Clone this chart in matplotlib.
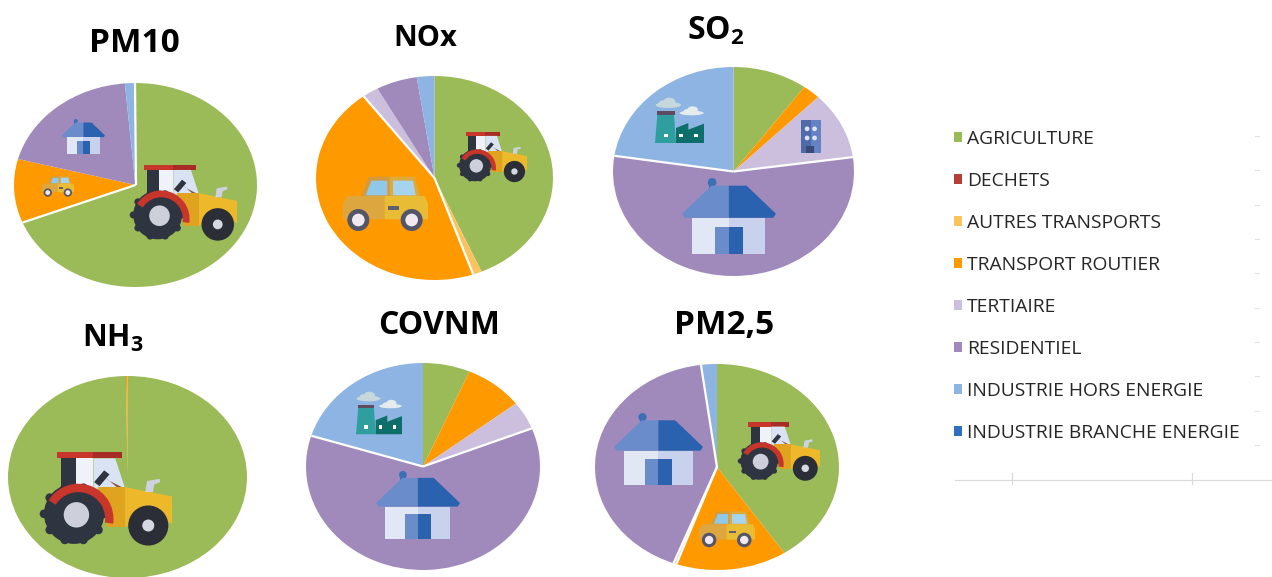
import numpy as np
import matplotlib
matplotlib.use("Agg")
import matplotlib.pyplot as plt
from matplotlib.patches import Patch, Polygon, Circle, Ellipse, Wedge

plt.rcParams['font.family'] = ['Open Sans', 'DejaVu Sans']
plt.rcParams['mathtext.fontset'] = 'custom'
plt.rcParams['mathtext.bf'] = 'Open Sans:bold'
plt.rcParams['mathtext.rm'] = 'Open Sans'

W, H = 1272, 577

# legend order, same order in every pollutant array
categories = ['AGRICULTURE', 'DECHETS', 'AUTRES TRANSPORTS', 'TRANSPORT ROUTIER', 'TERTIAIRE',
              'RESIDENTIEL', 'INDUSTRIE HORS ENERGIE', 'INDUSTRIE BRANCHE ENERGIE']
colors = ['#9BBB59', '#B5403A', '#FAC35E', '#FF9900', '#CBBFDD', '#A08ABC', '#8DB4E2', '#2F6FBE']

pm10 = [69.0, 0, 0, 10.1, 0, 19.5, 1.4, 0]
nox = [43.5, 0, 1.2, 45.1, 2.2, 5.6, 2.4, 0]
so2 = [10.0, 0, 0, 2.4, 10.4, 54.6, 22.6, 0]
nh3 = [99.8, 0, 0, 0.2, 0, 0, 0, 0]
covnm = [6.5, 0, 0, 8.1, 4.4, 60.8, 20.2, 0]
pm25 = [40.7, 0, 0, 14.7, 0.4, 42.1, 2.1, 0]

# (values, title, ellipse box in pixels x0,x1,y0,y1, title centre, title size, slices followed by a white gap)
pies = [
    (pm10, 'PM10', (14, 257, 83, 287), (134, 43), 24, [0, 6]),
    (nox, 'NOx', (316, 553, 76, 280), (425, 38), 21, [2, 3]),
    (so2, r'$\mathbf{SO_2}$', (613, 854, 67, 276), (716, 31), 23, [4, 5]),
    (nh3, r'$\mathbf{NH_3}$', (8, 247, 376, 578), (113, 338), 22, []),
    (covnm, 'COVNM', (306, 540, 363, 570), (439, 325), 23, [4, 5]),
    (pm25, 'PM2,5', (595, 839, 364, 570), (724, 325), 24, [3, 4, 5]),
]

fig = plt.figure(figsize=(W / 100, H / 100), dpi=100)


def draw_pie(values, box):
    x0, x1, y0, y1 = box
    ax = fig.add_axes([x0 / W, 1 - y1 / H, (x1 - x0) / W, (y1 - y0) / H])
    ax.pie(values, colors=colors, startangle=90, counterclock=False, radius=1,
           wedgeprops=dict(linewidth=0))
    ax.set_aspect('auto')
    ax.set_xlim(-1, 1)
    ax.set_ylim(-1, 1)
    return ax


for values, title, box, tpos, tsize, gaps in pies:
    ax = draw_pie(values, box)
    cum = np.cumsum(values) / np.sum(values)
    for g in gaps:
        a = 2 * np.pi * cum[g]
        ax.plot([0, np.sin(a)], [0, np.cos(a)], color='white', lw=1.6, solid_capstyle='butt')

# overlay in pixel coordinates for titles and pictograms
ov = fig.add_axes([0, 0, 1, 1], facecolor='none')
ov.set_xlim(0, W)
ov.set_ylim(H, 0)
ov.axis('off')

for values, title, box, tpos, tsize, gaps in pies:
    ov.text(tpos[0], tpos[1], title, ha='center', va='center', fontsize=tsize, fontweight='bold', color='black')


def mapper(x0, y0, w, ox, oy, ow):
    k = w / ow
    return lambda pts: [(x0 + (u - ox) * k, y0 + (v - oy) * k) for u, v in pts], k


def poly(f, pts, c, z=3):
    ov.add_patch(Polygon(f(pts), closed=True, fc=c, ec='none', zorder=z))


def disc(f, k, cx, cy, r, c, z=3):
    p = f([(cx, cy)])[0]
    ov.add_patch(Circle(p, r * k, fc=c, ec='none', zorder=z))


def tractor(x0, y0, w):
    f, k = mapper(x0, y0, w, 120, 422, 395)
    poly(f, [(170, 424), (280, 424), (280, 444), (170, 444)], '#C8352B')
    poly(f, [(280, 424), (365, 424), (365, 444), (280, 444)], '#A82C26')
    poly(f, [(183, 444), (228, 444), (228, 535), (183, 535)], '#2F3540')
    poly(f, [(228, 444), (280, 444), (280, 535), (228, 535)], '#F0F2FA')
    poly(f, [(280, 444), (345, 444), (375, 535), (280, 535)], '#D9E3F3')
    poly(f, [(315, 500), (325, 510), (375, 535), (355, 535)], '#8A5A3C')
    poly(f, [(282, 515), (312, 480), (328, 492), (298, 527)], '#2F3540')
    poly(f, [(295, 530), (375, 530), (375, 650), (320, 650)], '#E0A31F')
    poly(f, [(375, 530), (515, 558), (515, 640), (490, 625), (420, 625), (375, 650)], '#EDB92B')
    poly(f, [(435, 545), (440, 512), (478, 505), (480, 515), (462, 522), (458, 545)], '#CDD2DE')
    for a in np.arange(0, 360, 36):
        disc(f, k, 222 + 90 * np.cos(np.radians(a)), 610 + 82 * np.sin(np.radians(a)), 13, '#2F3540', 4)
    disc(f, k, 222, 610, 90, '#2F3540', 4)
    c = f([(235, 625)])[0]
    ov.add_patch(Wedge(c, 105 * k, 212, 368, width=25 * k, fc='#C8352B', ec='none', zorder=4.5))
    disc(f, k, 229, 613, 38, '#CDD0DA', 5)
    disc(f, k, 444, 645, 60, '#2B2E36', 4)
    disc(f, k, 444, 645, 18, '#D5D8E2', 5)


def car(x0, y0, w):
    f, k = mapper(x0, y0, w, 130, 498, 255)
    poly(f, [(183, 560), (208, 500), (270, 500), (270, 560)], '#D59A3C')
    poly(f, [(270, 500), (345, 500), (362, 560), (270, 560)], '#DDAA3C')
    poly(f, [(198, 556), (215, 512), (263, 512), (263, 556)], '#8FC8E8')
    poly(f, [(280, 512), (340, 512), (348, 556), (280, 556)], '#A6D4EE')
    poly(f, [(130, 580), (145, 558), (255, 558), (255, 628), (130, 628)], '#DDA63F')
    poly(f, [(255, 558), (375, 558), (385, 580), (385, 628), (255, 628)], '#E8BC35')
    poly(f, [(265, 587), (298, 587), (298, 600), (265, 600)], '#5F5F73')
    for cx in (176, 336):
        disc(f, k, cx, 630, 33, '#55556A', 4)
        disc(f, k, cx, 630, 19, '#F0EAF0', 5)


def house(x0, y0, w):
    f, k = mapper(x0, y0, w, 247, 505, 281)
    disc(f, k, 337, 518, 13, '#3B6FB6')
    poly(f, [(328, 518), (346, 518), (346, 540), (328, 540)], '#3B6FB6')
    poly(f, [(247, 612), (335, 528), (387, 528), (387, 624), (255, 624)], '#6A8CCB')
    poly(f, [(387, 528), (440, 528), (528, 612), (520, 624), (387, 624)], '#2A62B0')
    poly(f, [(277, 624), (387, 624), (387, 733), (277, 733)], '#E2E7F5')
    poly(f, [(387, 624), (495, 624), (495, 733), (387, 733)], '#C8D2EC')
    poly(f, [(345, 650), (387, 650), (387, 733), (345, 733)], '#6A8CCB')
    poly(f, [(387, 650), (430, 650), (430, 733), (387, 733)], '#2A62B0')


def factory(x0, y0, w):
    f, k = mapper(x0, y0, w, 165, 265, 147)
    clouds = [(205, 286, 38, 9, '#C6D8DC'), (190, 282, 14, 10, '#C6D8DC'), (208, 276, 18, 12, '#C6D8DC'),
              (275, 310, 36, 7, '#E4ECEE'), (262, 306, 12, 8, '#E4ECEE'), (278, 300, 16, 10, '#E4ECEE')]
    for cx, cy, rw, rh, c in clouds:
        ov.add_patch(Ellipse(f([(cx, cy)])[0], 2 * rw * k, 2 * rh * k, fc=c, ec='none', zorder=3))
    poly(f, [(170, 305), (224, 305), (224, 316), (170, 316)], '#5F4B5F')
    poly(f, [(172, 316), (222, 316), (228, 400), (165, 400)], '#2E9E9E')
    poly(f, [(228, 400), (228, 355), (265, 340), (265, 360), (312, 342), (312, 400)], '#0E6E6A')
    for cx in (197, 243, 288):
        poly(f, [(cx - 6, 372), (cx + 6, 372), (cx + 6, 383), (cx - 6, 383)], 'white', 4)


def building(x0, y0, w):
    f, k = mapper(x0, y0, w, 603, 330, 59)
    poly(f, [(603, 330), (632, 330), (632, 427), (603, 427)], '#4F6AA8')
    poly(f, [(632, 330), (662, 330), (662, 427), (632, 427)], '#6482C4')
    for cx in (621, 643):
        for cy in (356, 383):
            disc(f, k, cx, cy, 7, '#DCE3F3', 4)
    poly(f, [(618, 408), (640, 408), (640, 427), (618, 427)], '#3A4A78', 4)


tractor(130, 164, 107)
car(42, 176, 32)
house(62, 119, 43)
tractor(457, 132, 70)
car(343, 176, 85)
factory(655, 98, 49)
building(801, 120, 20)
house(682, 178, 94)
# NH3 slice is hairline, tractor sits on it
tractor(40, 451, 132)
factory(356, 392, 46)
house(376, 471, 84)
tractor(738, 422, 82)
car(699, 511, 56)
house(614, 413, 89)

# legend
handles = [Patch(facecolor=c, edgecolor='none') for c in colors]
fig.legend(handles, categories, loc='upper left', bbox_to_anchor=(954 / W, 1 - 130 / H), frameon=False,
           fontsize=13.9, labelcolor='#262626', handlelength=0.42, handleheight=0.42, handletextpad=0.26,
           labelspacing=1.24, borderpad=0, borderaxespad=0)

# remains of the excel axis behind the legend
ov.plot([955, 1272], [480, 480], color='#D9D9D9', lw=0.8)
for x in (1012, 1192):
    ov.plot([x, x], [473, 484], color='#D9D9D9', lw=0.8)
for y in np.linspace(136, 445, 10):
    ov.plot([1255, 1259], [y, y], color='#E2E2E2', lw=0.8)

fig.savefig('out.png', dpi=100)
